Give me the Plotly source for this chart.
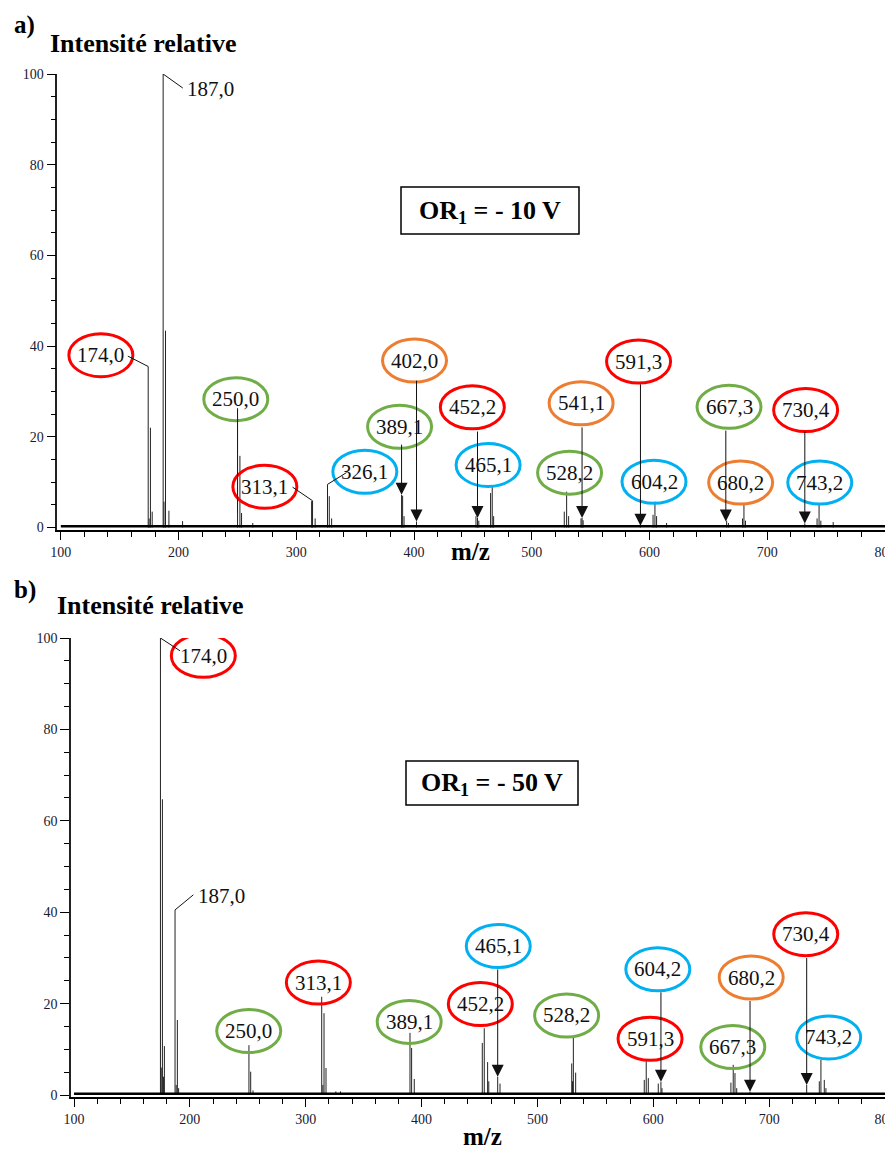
import plotly.graph_objects as go

# ---- spectrum a) OR1 = -10 V : stick peaks (m/z, relative intensity)
peaks_a_mz = [174.2, 175.0, 176.1, 177.6, 186.9, 187.6, 188.9, 191.8, 203.4,
              250.1, 252.1, 253.5, 263.0, 313.0, 313.8, 316.0, 326.5, 328.0, 330.0,
              389.4, 390.3, 391.5, 402.1, 452.6, 453.9, 455.0, 465.0, 466.4, 467.6,
              527.6, 529.6, 531.3, 541.8, 542.7, 543.6, 592.3, 603.0, 604.6, 606.0,
              614.5, 665.5, 667.0, 679.0, 680.2, 681.5, 731.9, 742.3, 744.0, 745.5, 756.0]
peaks_a_int = [35.5, 2.0, 22.0, 3.5, 100.0, 5.7, 43.4, 3.7, 1.4,
               3.0, 15.8, 3.2, 1.0, 5.8, 5.9, 2.0, 9.5, 6.9, 2.0,
               7.2, 7.0, 2.5, 1.3, 2.5, 2.1, 1.5, 7.6, 9.0, 2.5,
               3.5, 7.9, 2.5, 2.0, 2.1, 1.6, 0.5, 2.8, 5.7, 2.5,
               1.0, 1.5, 1.0, 2.0, 5.0, 1.5, 0.9, 2.0, 5.0, 1.5, 1.2]

# ---- spectrum b) OR1 = -50 V
peaks_b_mz = [174.6, 175.3, 176.3, 177.2, 178.0, 187.2, 188.2, 189.2, 190.3,
              251.0, 252.5, 254.5, 313.8, 314.8, 315.8, 317.5, 326.0, 330.0,
              390.0, 391.4, 393.7, 452.4, 454.1, 457.0, 458.0, 465.7, 467.7,
              529.6, 530.3, 531.0, 533.0, 592.2, 593.9, 595.7, 604.3, 606.6, 607.5,
              667.0, 669.0, 670.5, 672.0, 683.5, 732.4, 743.3, 744.7, 747.6, 749.0]
peaks_b_int = [100.0, 6.0, 64.7, 4.0, 10.7, 40.5, 2.2, 16.4, 1.5,
               10.9, 5.1, 1.0, 21.5, 2.2, 17.9, 5.9, 0.8, 0.8,
               13.6, 10.3, 3.5, 11.4, 14.6, 7.2, 3.0, 4.0, 2.5,
               6.9, 3.0, 12.8, 4.9, 3.3, 7.4, 3.7, 2.5, 2.9, 1.5,
               2.7, 6.6, 4.8, 1.5, 0.7, 2.2, 3.0, 7.7, 3.3, 1.5]

baseline_mz = [100, 800]
baseline_int = [0.3, 0.3]

# ---- peak labels: text, circle colour, position (m/z, intensity)
lab_a_text = ["174,0", "187,0", "250,0", "313,1", "326,1", "389,1", "402,0", "452,2", "465,1",
              "528,2", "541,1", "591,3", "604,2", "667,3", "680,2", "730,4", "743,2"]
lab_a_col = ["red", None, "green", "red", "blue", "green", "orange", "red", "blue",
             "green", "orange", "red", "blue", "green", "orange", "red", "blue"]
lab_a_mz = [134.0, 227.0, 248.6, 273.3, 358.2, 387.7, 400.4, 449.5, 462.9,
            532.1, 541.9, 590.7, 603.8, 667.5, 677.4, 732.6, 744.6]
lab_a_int = [38.0, 96.7, 28.3, 9.0, 12.3, 22.2, 36.8, 26.5, 13.8,
             12.1, 27.4, 36.6, 10.1, 26.6, 9.9, 25.9, 9.9]

lab_b_text = ["174,0", "187,0", "250,0", "313,1", "389,1", "452,2", "465,1", "528,2",
              "591,3", "604,2", "667,3", "680,2", "730,4", "743,2"]
lab_b_col = ["red", None, "green", "red", "green", "red", "blue", "green",
             "red", "blue", "green", "orange", "red", "blue"]
lab_b_mz = [211.6, 226.9, 250.8, 310.9, 389.3, 450.7, 466.2, 525.2,
            597.2, 603.9, 668.6, 684.5, 731.6, 751.4]
lab_b_int = [96.1, 43.5, 14.0, 24.6, 16.0, 19.9, 32.6, 17.4,
             12.3, 27.5, 10.5, 25.7, 35.2, 12.6]

# ---- leader lines: (from m/z, from int, to m/z, to int, arrow head?)
lead_a = [(156.9, 37.8, 174.2, 35.5, False), (203.6, 96.9, 186.9, 100.0, False),
          (250.1, 26.3, 250.1, 3.0, False), (296.8, 8.9, 313.8, 5.9, False),
          (342.6, 12.1, 326.5, 9.5, False), (389.4, 18.6, 389.4, 7.2, True),
          (402.1, 32.7, 402.1, 1.3, True), (453.9, 21.5, 453.9, 2.1, True),
          (542.7, 22.4, 542.7, 2.1, True), (592.3, 31.9, 592.3, 0.4, True),
          (664.8, 21.7, 664.8, 1.3, True), (731.9, 21.5, 731.9, 0.9, True)]
lead_b = [(191.5, 97.2, 174.6, 100.0, False), (203.0, 43.8, 187.2, 40.5, False),
          (465.7, 27.8, 465.7, 4.0, True), (606.6, 22.8, 606.6, 2.9, True),
          (683.5, 20.9, 683.5, 0.7, True), (732.4, 30.3, 732.4, 2.2, True)]

colors = {"red": "#ff0000", "green": "#70ad47", "orange": "#ed7d31", "blue": "#00b0f0"}
SERIF = "Liberation Serif, Times New Roman, serif"


def sticks(mz, inten):
    xs, ys = [], []
    for m, v in zip(mz, inten):
        xs += [m, m, None]
        ys += [0, v, None]
    return xs, ys


fig = go.Figure()
for mz, inten, xa, ya in [(peaks_a_mz, peaks_a_int, "x", "y"), (peaks_b_mz, peaks_b_int, "x2", "y2")]:
    xs, ys = sticks(mz, inten)
    fig.add_trace(go.Scatter(x=xs, y=ys, mode="lines", line=dict(color="#222", width=1),
                             xaxis=xa, yaxis=ya, hoverinfo="skip", showlegend=False))
    fig.add_trace(go.Scatter(x=baseline_mz, y=baseline_int, mode="lines",
                             line=dict(color="black", width=2.5),
                             xaxis=xa, yaxis=ya, hoverinfo="skip", showlegend=False))

shapes = []
annots = []
for texts, cols, lmz, lint, leads, xr, yr in [
        (lab_a_text, lab_a_col, lab_a_mz, lab_a_int, lead_a, "x", "y"),
        (lab_b_text, lab_b_col, lab_b_mz, lab_b_int, lead_b, "x2", "y2")]:
    for t, c, m, v in zip(texts, cols, lmz, lint):
        annots.append(dict(x=m, y=v, xref=xr, yref=yr, text=t, showarrow=False,
                           font=dict(family=SERIF, size=21, color="#111")))
        if c:
            shapes.append(dict(type="circle", xref=xr, yref=yr, xsizemode="pixel", ysizemode="pixel",
                               xanchor=m, yanchor=v, x0=-32, x1=32, y0=-21.5, y1=21.5,
                               line=dict(color=colors[c], width=3)))
    for fm, fv, tm, tv, head in leads:
        if head:
            annots.append(dict(x=tm, y=tv, ax=fm, ay=fv, xref=xr, yref=yr, axref=xr, ayref=yr,
                               text="", showarrow=True, arrowhead=2, arrowsize=2.4,
                               arrowwidth=1, arrowcolor="#111", standoff=0))
        else:
            shapes.append(dict(type="line", xref=xr, yref=yr, x0=fm, y0=fv, x1=tm, y1=tv,
                               line=dict(color="#111", width=1)))

# the page body adds an 8 px margin, so the figure is 8 px smaller and all
# positions below are given in screen pixels of the final page
OFF = 8
W, H = 893 - OFF, 1151 - OFF


def px(xp, yp):
    return (xp - OFF) / W, 1 - (yp - OFF) / H


def ptext(xp, yp, text, size, xanchor="center"):
    x, y = px(xp, yp)
    annots.append(dict(x=x, y=y, xref="paper", yref="paper", text=text, showarrow=False,
                       xanchor=xanchor, yanchor="middle",
                       font=dict(family=SERIF, size=size, color="black")))


ptext(12, 25, "<b>a)</b>", 25, "left")
ptext(48, 44, "<b>Intensité relative</b>", 26, "left")
ptext(470, 552, "<b>m/z</b>", 25)
ptext(12, 590, "<b>b)</b>", 25, "left")
ptext(55, 605, "<b>Intensité relative</b>", 26, "left")
ptext(482, 1136, "<b>m/z</b>", 25)

for (x0, y0, x1, y1), txt in [((401, 187, 579, 234), "<b>OR<sub>1</sub> = - 10 V</b>"),
                              ((406, 761, 578, 805), "<b>OR<sub>1</sub> = - 50 V</b>")]:
    a0, b0 = px(x0, y1)
    a1, b1 = px(x1, y0)
    shapes.append(dict(type="rect", xref="paper", yref="paper", x0=a0, x1=a1, y0=b0, y1=b1,
                       line=dict(color="black", width=1.5)))
    ptext((x0 + x1) / 2, (y0 + y1) / 2 + 1, txt, 26)

xcommon = dict(showline=True, linewidth=2, linecolor="black", ticks="outside", ticklen=8,
               tickwidth=1, tickcolor="black", tick0=100, dtick=100, showgrid=False, zeroline=False,
               automargin=False, ticklabeloverflow="allow",
               minor=dict(dtick=20, ticks="outside", ticklen=5, tickcolor="black", tickwidth=1),
               tickfont=dict(family=SERIF, size=14, color="#1a1a2e"))
ycommon = dict(showline=True, linewidth=1.5, linecolor="#222", ticks="outside", ticklen=9,
               tickwidth=1, tickcolor="black", tick0=0, dtick=20, range=[-0.5, 100],
               showgrid=False, zeroline=False, automargin=False, ticklabeloverflow="allow",
               minor=dict(dtick=5, ticks="outside", ticklen=5, tickcolor="black", tickwidth=1),
               tickfont=dict(family=SERIF, size=14, color="#1a1a2e"))


def xdom(a, b):
    return [(a - OFF) / W, (b - OFF) / W]


def ydom(bottom, top):
    return [1 - (bottom - OFF) / H, 1 - (top - OFF) / H]


fig.update_layout(
    width=W, height=H, margin=dict(l=0, r=0, t=0, b=0, autoexpand=False),
    paper_bgcolor="white", plot_bgcolor="white", showlegend=False,
    xaxis=dict(domain=xdom(57.3, 885), range=[97, 800], anchor="y", **xcommon),
    yaxis=dict(domain=ydom(529.77, 74), anchor="x", **ycommon),
    xaxis2=dict(domain=xdom(71, 885), range=[97.4, 800], anchor="y2", **xcommon),
    yaxis2=dict(domain=ydom(1097.29, 638), anchor="x2", **ycommon),
    shapes=shapes, annotations=annots,
)

fig.write_html("out.html")
